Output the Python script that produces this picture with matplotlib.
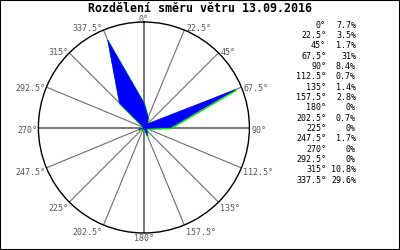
import numpy as np
import matplotlib
matplotlib.use("Agg")
import matplotlib.pyplot as plt
from matplotlib.patches import Rectangle
from matplotlib.transforms import offset_copy

# Wind direction distribution
directions = [0, 22.5, 45, 67.5, 90, 112.5, 135, 157.5,
              180, 202.5, 225, 247.5, 270, 292.5, 315, 337.5]
percent = [7.7, 3.5, 1.7, 31, 8.4, 0.7, 1.4, 2.8,
           0, 0.7, 0, 1.7, 0, 0, 10.8, 29.6]
title = "Rozdělení směru větru 13.09.2016"
rmax = 33

plt.rcParams['font.family'] = ['DejaVu Sans Mono']

fig = plt.figure(figsize=(4, 2.5), dpi=100)
fig.patches.append(Rectangle((0, 0), 1, 1, transform=fig.transFigure,
                             fill=False, edgecolor='black', linewidth=1.5))

ax = fig.add_axes([0.096, 0.068, 0.5275, 0.844], projection='polar')
ax.set_theta_zero_location('N')
ax.set_theta_direction(-1)
ax.set_ylim(0, rmax)
ax.grid(False)
ax.set_xticks([])
ax.set_yticks([])
ax.spines['polar'].set_color('black')
ax.spines['polar'].set_linewidth(1)

theta = np.radians(directions)

# spokes
for d, t in zip(directions, theta):
    cardinal = d % 90 == 0
    ax.plot([t, t], [0, rmax], color='#6e6e6e',
            lw=1.3 if cardinal else 0.8, zorder=1)

# wind polygon: green outline slightly below the blue fill
shifted = offset_copy(ax.transData, fig=fig, x=0.5, y=-1, units='dots')
ax.plot(np.append(theta, theta[0]), percent + percent[:1],
        color='#00ee00', lw=1.0, zorder=2, transform=shifted)
ax.fill(theta, percent, facecolor='#0000ff', edgecolor='#0000ff',
        lw=0.4, zorder=3)

# direction labels around the circle
for d, t in zip(directions, theta):
    s = np.sin(t)
    c = np.cos(t)
    dy = -(3 - 5 * c)
    if abs(s) < 0.01:
        ha, dx = 'center', 0
        va = 'bottom' if c > 0 else 'top'
        dy = -2 if c > 0 else -1
    elif s > 0:
        ha, dx, va = 'left', 2, 'center'
    else:
        ha, dx, va = 'right', -1, 'center'
    ax.annotate(f"{d:g}°", xy=(t, rmax), xytext=(dx, dy),
                textcoords='offset pixels', ha=ha, va=va, fontsize=6,
                color='#555555', annotation_clip=False)

fig.text(0.5, 0.965, title, ha='center', va='center', fontsize=8.4,
         fontweight='bold')

# table on the right
for i, (d, p) in enumerate(zip(directions, percent)):
    y = 1 - (25 + i * 10.35) / 250
    fig.text(326 / 400, y, f"{d:g}°", ha='right', va='center', fontsize=6)
    fig.text(356 / 400, y, f"{p:g}%", ha='right', va='center', fontsize=6)

fig.savefig("out.png", dpi=100)
